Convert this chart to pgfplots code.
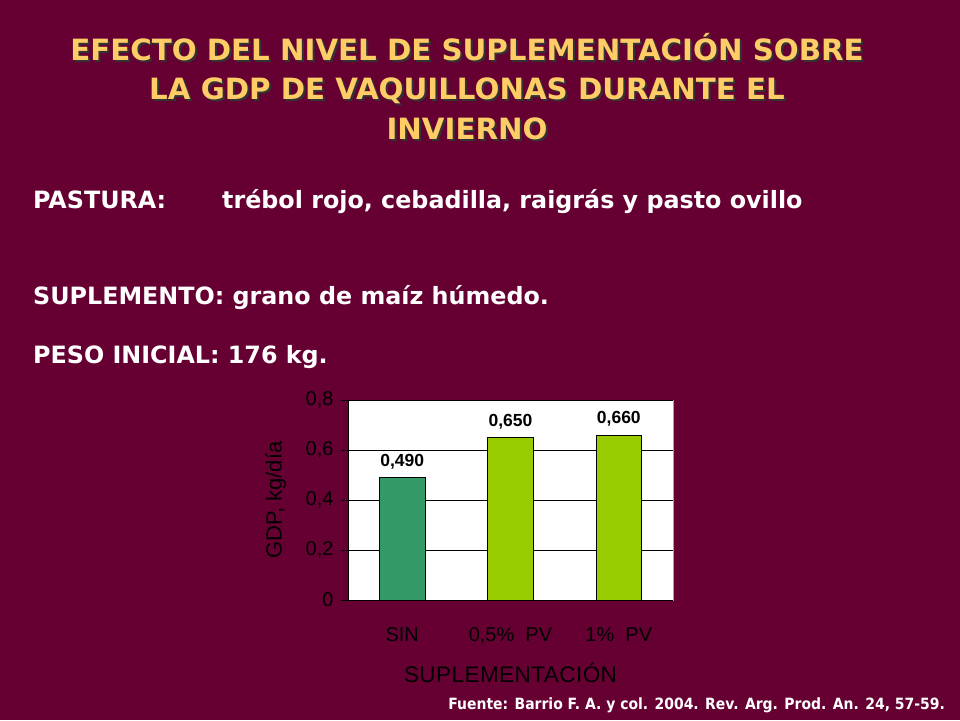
\documentclass[border=0pt]{standalone}
\usepackage{pgfplots}
\pgfplotsset{compat=1.18}
\usepackage{fontspec}
\setmainfont{Liberation Sans}
\newfontfamily\slidefont{DejaVu Sans}
\newfontfamily\smallslidefont{DejaVu Sans Condensed}
\definecolor{bgmaroon}{HTML}{660033}
\definecolor{titlegold}{HTML}{FFCC66}
\definecolor{barsin}{HTML}{339966}
\definecolor{barsup}{HTML}{99CC00}

\begin{document}
\begin{tikzpicture}[x=1pt,y=1pt]
  \fill[bgmaroon] (0,0) rectangle (960,-720);

  % title with shadow
  \foreach \dx/\dy/\col in {2/-2/black!80, 0/0/titlegold}{
    \begin{scope}[every node/.style={text=\col, font=\slidefont\bfseries\fontsize{29.3}{40}\selectfont, anchor=base, inner sep=0pt}]
      \node at (467+\dx,-60+\dy) {EFECTO DEL NIVEL DE SUPLEMENTACIÓN SOBRE};
      \node at (467+\dx,-99+\dy) {LA GDP DE VAQUILLONAS DURANTE EL};
      \node at (467+\dx,-139+\dy) {INVIERNO};
    \end{scope}
  }

  \begin{scope}[every node/.style={text=white, font=\slidefont\bfseries\fontsize{23.8}{28}\selectfont, anchor=base west, inner sep=0pt}]
    \node at (33,-208) {PASTURA:};
    \node at (222,-208) {trébol rojo, cebadilla, raigrás y pasto ovillo};
    \node at (33,-304) {SUPLEMENTO: grano de maíz húmedo.};
    \node at (33,-363) {PESO INICIAL: 176 kg.};
  \end{scope}
  \node[text=white, font=\smallslidefont\bfseries\fontsize{15.5}{18}\selectfont, anchor=base east, inner sep=0pt]
    at (945,-709) {Fuente: Barrio F. A. y col. 2004. Rev. Arg. Prod. An. 24, 57-59.};

  \begin{axis}[
    at={(348pt,-600pt)},
    anchor=south west,
    scale only axis,
    width=325pt,
    height=200pt,
    axis x line*=bottom,
    axis y line*=left,
    axis line style={black, line width=0.8pt},
    axis background/.style={fill=white, draw=gray!70},
    xmin=-0.5, xmax=2.5,
    ymin=0, ymax=0.8,
    ytick={0,0.2,0.4,0.6,0.8},
    ymajorgrids,
    grid style={black, line width=0.8pt},
    yticklabel style={/pgf/number format/use comma, /pgf/number format/fixed, /pgf/number format/precision=1, xshift=-4pt},
    xtick={0,1,2},
    xticklabels={SIN, {0,5\%\ \ PV}, {1\%\ \ PV}},
    major x tick style={draw=none},
    extra x ticks={-0.5,0.5,1.5,2.5},
    extra x tick labels={},
    extra x tick style={tick style={black, line width=0.8pt}, major tick length=7pt},
    tick align=outside,
    major tick length=7pt,
    y tick style={black, line width=0.8pt},
    tick label style={font=\fontsize{20}{24}\selectfont, text=black},
    /pgf/number format/assume math mode=true,
    xticklabel style={yshift=-17pt},
    xlabel={SUPLEMENTACIÓN},
    xlabel style={font=\fontsize{22.5}{26}\selectfont\addfontfeatures{LetterSpace=2}, text=black,
      at={(axis description cs:0.5,-0.365)}, anchor=center},
    ylabel={GDP, kg/día},
    ylabel style={font=\fontsize{22}{26}\selectfont, text=black,
      at={(axis description cs:-0.222,0.5)}, anchor=center},
    ybar,
    bar width=0.42,
    bar shift=0pt,
    nodes near coords,
    every node near coord/.append style={font=\bfseries\fontsize{17.5}{20}\selectfont, text=black, yshift=5pt,
      /pgf/number format/use comma, /pgf/number format/fixed, /pgf/number format/fixed zerofill,
      /pgf/number format/precision=3, /pgf/number format/assume math mode=true},
    clip=false,
  ]
    \addplot[fill=barsin, draw=black, line width=0.6pt] coordinates {(0,0.490)};
    \addplot[fill=barsup, draw=black, line width=0.6pt] coordinates {(1,0.650) (2,0.660)};
  \end{axis}
\end{tikzpicture}
\end{document}
